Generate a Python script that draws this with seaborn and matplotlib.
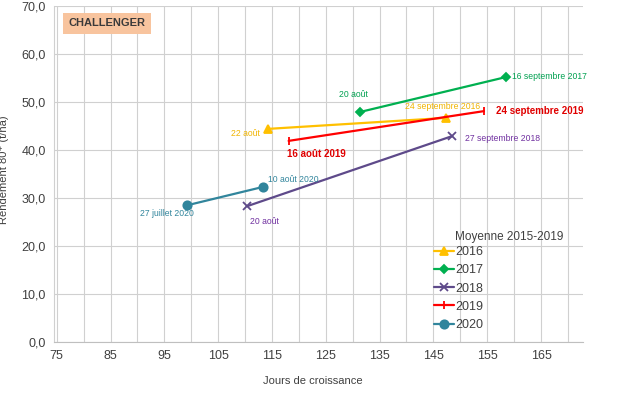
import matplotlib
matplotlib.use("Agg")
import matplotlib.pyplot as plt
import seaborn as sns
import pandas as pd
from matplotlib.ticker import MultipleLocator, FuncFormatter

# ---- data ----
years = ["2016", "2017", "2018", "2019", "2020"]
days_start = [114.3, 131.3, 110.4, 118.1, 99.3]
days_end = [147.4, 158.5, 148.5, 154.4, 113.3]
yield_start = [44.4, 47.9, 28.3, 41.9, 28.5]
yield_end = [46.7, 55.2, 42.9, 48.1, 32.3]
label_start = ["22 août", "20 août", "20 août", "16 août 2019", "27 juillet 2020"]
label_end = ["24 septembre 2016", "16 septembre 2017", "27 septembre 2018",
             "24 septembre 2019", "10 août 2020"]
x_ticks = [75, 85, 95, 105, 115, 125, 135, 145, 155, 165]
y_ticks = [0, 10, 20, 30, 40, 50, 60, 70]

colors = ["#FFC000", "#00B050", "#5E4A8A", "#FF0000", "#31859C"]
text_colors = ["#F0B400", "#00A050", "#7030A0", "#E00000", "#31859C"]
markers = ["^", "D", "x", "|", "o"]
msizes = [5.5, 4, 6, 6, 6]

rows = []
for i, yname in enumerate(years):
    rows.append({"annee": yname, "jours": days_start[i], "rendement": yield_start[i]})
    rows.append({"annee": yname, "jours": days_end[i], "rendement": yield_end[i]})
df = pd.DataFrame(rows)

sns.set_style("white")
plt.rcParams["font.family"] = ["Liberation Sans", "DejaVu Sans"]

fig = plt.figure(figsize=(6.25, 3.94), dpi=100)
ax = fig.add_axes([54/625, 1-342/394, (583-54)/625, (342-6)/394])

for i, yname in enumerate(years):
    sub = df[df["annee"] == yname]
    sns.lineplot(data=sub, x="jours", y="rendement", ax=ax, color=colors[i],
                 marker=markers[i], markersize=msizes[i], linewidth=1.6,
                 markeredgecolor=colors[i], markeredgewidth=1.3, label=yname,
                 sort=False, estimator=None)

ax.set_xlim(74.5, 172.8)
ax.set_ylim(0, 70)
ax.set_xticks(x_ticks)
ax.xaxis.set_minor_locator(MultipleLocator(5))
ax.set_yticks(y_ticks)
ax.yaxis.set_major_formatter(FuncFormatter(lambda v, p: f"{v:.1f}".replace(".", ",")))
ax.grid(True, which="both", color="#D0D0D0", linewidth=0.8)
ax.set_axisbelow(True)
for s in ["top", "right"]:
    ax.spines[s].set_visible(False)
ax.spines["left"].set_color("#D0D0D0")
ax.spines["bottom"].set_color("#BFBFBF")
ax.tick_params(axis="both", which="both", length=0, labelsize=9, colors="#404040", pad=6)
ax.set_xlabel("")
ax.set_ylabel("")

fig.text(313/625, 1-381/394, "Jours de croissance", ha="center", va="center",
         fontsize=8, color="#404040")
fig.text(0.006, 1-170/394, "Rendement 80⁺ (t/ha)", rotation=90, ha="center", va="center",
         fontsize=8, color="#404040")

# annotations
fs = 6.2
ax.text(112.8, 43.5, label_start[0], color=text_colors[0], fontsize=fs, ha="right", va="center")
ax.text(139.8, 49.0, label_end[0], color=text_colors[0], fontsize=fs, ha="left", va="center")
ax.text(127.4, 51.6, label_start[1], color=text_colors[1], fontsize=fs, ha="left", va="center")
ax.text(159.6, 55.4, label_end[1], color=text_colors[1], fontsize=fs, ha="left", va="center")
ax.text(110.9, 25.2, label_start[2], color=text_colors[2], fontsize=fs, ha="left", va="center")
ax.text(150.9, 42.3, label_end[2], color=text_colors[2], fontsize=fs, ha="left", va="center")
ax.text(117.8, 39.2, label_start[3], color=text_colors[3], fontsize=7, ha="left", va="center",
        fontweight="bold")
ax.text(156.7, 48.1, label_end[3], color=text_colors[3], fontsize=7, ha="left", va="center",
        fontweight="bold")
ax.text(90.4, 26.7, label_start[4], color=text_colors[4], fontsize=fs, ha="left", va="center")
ax.text(114.3, 33.8, label_end[4], color=text_colors[4], fontsize=fs, ha="left", va="center")

ax.text(84.4, 66.4, "CHALLENGER", fontsize=8, fontweight="bold", color="#3A3A3A",
        ha="center", va="center",
        bbox=dict(boxstyle="square,pad=0.5", facecolor="#F8C49E", edgecolor="none"))

leg = ax.legend(loc="upper left", bbox_to_anchor=(434/625, 1-246/394),
                bbox_transform=fig.transFigure, frameon=False, fontsize=9,
                handlelength=1.6, handletextpad=0.1, labelspacing=0.5,
                borderaxespad=0, borderpad=0)
for t in leg.get_texts():
    t.set_color("#404040")
fig.text(455/625, 1-237/394, "Moyenne 2015-2019", fontsize=8.5, color="#404040",
         ha="left", va="center")

fig.savefig("out.png", dpi=100)
